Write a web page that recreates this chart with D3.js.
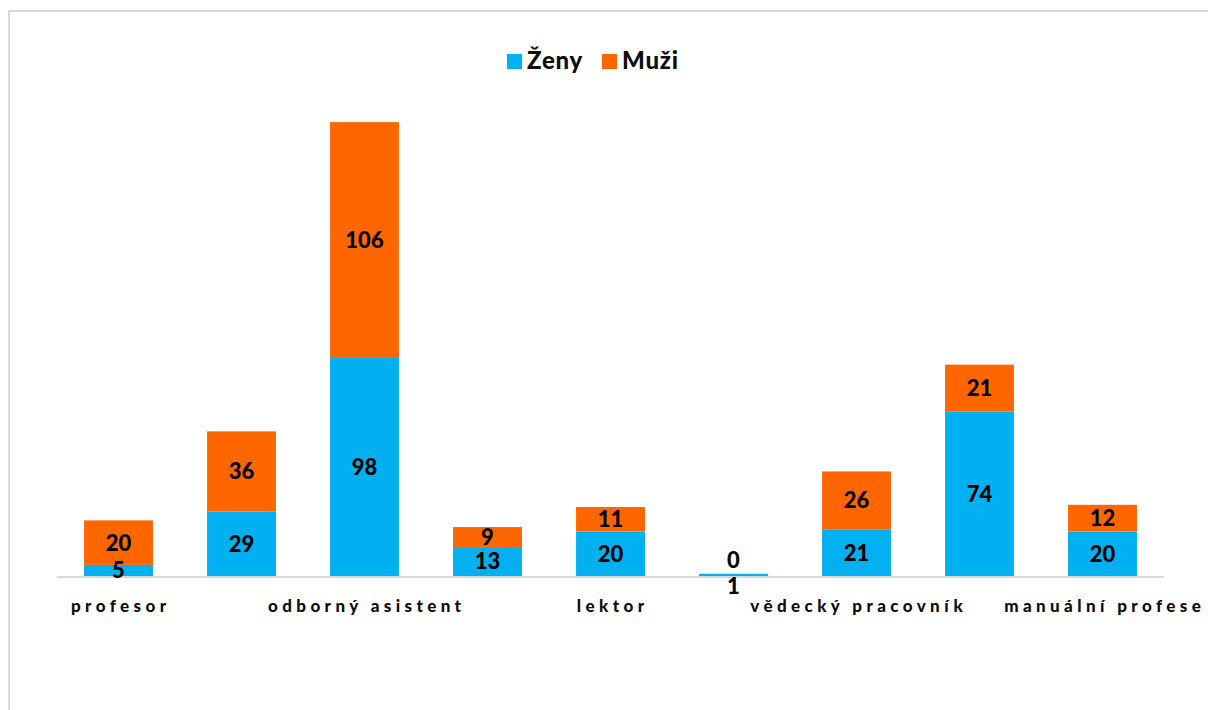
<!DOCTYPE html>
<html>
<head>
<meta charset="utf-8">
<script src="https://cdn.jsdelivr.net/npm/d3@7"></script>
<style>
  body { margin: 0; background: #fff; }
  svg { display: block; font-family: Lato, "Open Sans", sans-serif; }
</style>
</head>
<body>
<script>
const w = 1208;
const h = 710;

// data
const categories = ["profesor", "docent", "odborný asistent", "asistent", "lektor",
  "výzkumný pracovník", "vědecký pracovník", "THP", "manuální profese"];
const zeny = [5, 29, 98, 13, 20, 1, 21, 74, 20];
const muzi = [20, 36, 106, 9, 11, 0, 26, 21, 12];
const seriesNames = ["Ženy", "Muži"];
const colors = ["#00b0f0", "#ff6600"];

const svg = d3.select("body")
  .append("svg")
  .attr("width", w)
  .attr("height", h);

// chart frame (only left/top edges visible)
svg.append("rect")
  .attr("x", 9)
  .attr("y", 11)
  .attr("width", 1400)
  .attr("height", 900)
  .style("fill", "none")
  .style("stroke", "#d9d9d9")
  .style("stroke-width", 2);

const rows = categories.map((c, i) => ({ cat: c, "Ženy": zeny[i], "Muži": muzi[i] }));
const stacked = d3.stack().keys(seriesNames)(rows);

const xScale = d3.scaleBand()
  .domain(categories)
  .range([57, 1164])
  .paddingInner(0.44)
  .paddingOuter(0.22);

const yScale = d3.scaleLinear()
  .domain([0, 250])
  .range([576, 576 - 250 * 2.225]);

// bars
const layers = svg.selectAll(".layer")
  .data(stacked)
  .enter()
  .append("g")
  .attr("class", "layer")
  .style("fill", (d, i) => colors[i]);

layers.selectAll("rect")
  .data(d => d)
  .enter()
  .append("rect")
  .attr("x", d => xScale(d.data.cat))
  .attr("y", d => yScale(d[1]))
  .attr("width", xScale.bandwidth())
  .attr("height", d => yScale(d[0]) - yScale(d[1]));

// x axis line
svg.append("line")
  .attr("x1", 57)
  .attr("x2", 1164)
  .attr("y1", 577)
  .attr("y2", 577)
  .style("stroke", "#d9d9d9")
  .style("stroke-width", 2);

// data labels
stacked.forEach((layer, si) => {
  svg.selectAll(".lbl" + si)
    .data(layer)
    .enter()
    .append("text")
    .attr("class", "lbl" + si)
    .attr("x", d => xScale(d.data.cat) + xScale.bandwidth() / 2)
    .attr("y", d => {
      const top = yScale(d[1]), bot = yScale(d[0]);
      if (bot - top < 6) {
        // tiny segments: push labels apart
        return si === 0 ? bot + 10 : top - 14;
      }
      return (top + bot) / 2;
    })
    .attr("dy", "0.36em")
    .attr("text-anchor", "middle")
    .style("font-size", "22px")
    .style("font-weight", "900")
    .style("fill", "#000")
    .text(d => d[1] - d[0]);
});

// category labels, every other one shown
const ls = 4.4;
svg.selectAll(".cat")
  .data(categories.filter((c, i) => i % 2 === 0))
  .enter()
  .append("text")
  .attr("class", "cat")
  .attr("x", d => xScale(d) + xScale.bandwidth() / 2 + ls / 2)
  .attr("y", 612)
  .attr("text-anchor", "middle")
  .style("font-size", "17px")
  .style("font-weight", "900")
  .style("letter-spacing", ls + "px")
  .style("fill", "#0d0d0d")
  .text(d => d);

// legend
const legend = svg.append("g");
const legendX = [507, 602];
seriesNames.forEach((name, i) => {
  legend.append("rect")
    .attr("x", legendX[i])
    .attr("y", 54)
    .attr("width", 15)
    .attr("height", 15)
    .style("fill", colors[i]);
  legend.append("text")
    .attr("x", legendX[i] + 20)
    .attr("y", 69)
    .style("font-size", "24px")
    .style("font-weight", "900")
    .style("letter-spacing", "0.8px")
    .style("fill", "#0d0d0d")
    .text(name);
});
</script>
</body>
</html>
